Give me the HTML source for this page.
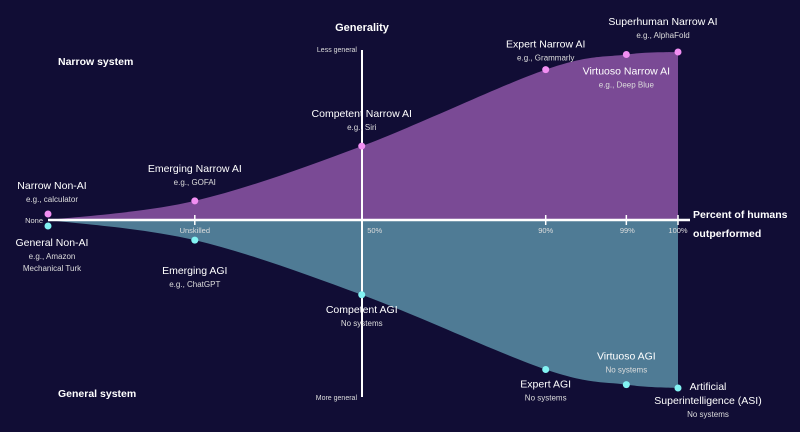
<!DOCTYPE html>
<html><head><meta charset="utf-8"><style>
html,body{margin:0;padding:0;background:#110d35;}
svg{display:block;font-family:"Liberation Sans",sans-serif;}
</style></head><body>
<svg id="chart" width="800" height="432" viewBox="0 0 800 432">
<rect width="800" height="432" fill="#110d35"/>
<g id="fills"></g>
<g id="axes"></g>
<g id="labels"></g>
<g id="dots"></g>
</svg>
<script>
const levels = ["None","Unskilled","50%","90%","99%","100%"];
const levelX = [0, 0.233, 0.498, 0.79, 0.918, 1.0];
const narrowVals = [0.036, 0.114, 0.44, 0.895, 0.985, 1.0];
const generalVals = [0.036, 0.12, 0.445, 0.89, 0.98, 1.0];
const narrowNames = ["Narrow Non-AI","Emerging Narrow AI","Competent Narrow AI","Expert Narrow AI","Virtuoso Narrow AI","Superhuman Narrow AI"];
const narrowEx = ["e.g., calculator","e.g., GOFAI","e.g., Siri","e.g., Grammarly","e.g., Deep Blue","e.g., AlphaFold"];
const generalNames = ["General Non-AI","Emerging AGI","Competent AGI","Expert AGI","Virtuoso AGI","Artificial|Superintelligence (ASI)"];
const generalEx = ["e.g., Amazon|Mechanical Turk","e.g., ChatGPT","No systems","No systems","No systems","No systems"];

const X0=48,X1=678,BASE=220,H=168;
const xs=v=>X0+v*(X1-X0);
const yUp=v=>BASE-v*H;
const yDn=v=>BASE+v*H;
const NS="http://www.w3.org/2000/svg";
function mk(tag,attrs,parent){const e=document.createElementNS(NS,tag);for(const k in attrs)e.setAttribute(k,attrs[k]);parent.appendChild(e);return e;}
function smooth(pts){
  let d=`M${pts[0][0]},${pts[0][1]}`;
  for(let i=0;i<pts.length-1;i++){
    const p0=pts[i-1]||pts[i],p1=pts[i],p2=pts[i+1],p3=pts[i+2]||p2;
    const c1=[p1[0]+(p2[0]-p0[0])/6,p1[1]+(p2[1]-p0[1])/6];
    const c2=[p2[0]-(p3[0]-p1[0])/6,p2[1]-(p3[1]-p1[1])/6];
    d+=` C${c1[0]},${c1[1]} ${c2[0]},${c2[1]} ${p2[0]},${p2[1]}`;
  }
  return d;
}
const fills=document.getElementById('fills');
const up=levelX.map((v,i)=>[xs(v),yUp(narrowVals[i])]);
up[0]=[X0,BASE];
const dn=levelX.map((v,i)=>[xs(v),yDn(generalVals[i])]);
dn[0]=[X0,BASE];
const pf=mk('path',{d:smooth(up)+` L${X1},${BASE} Z`,fill:'#7a4a95'},fills);


const gf=mk('path',{d:smooth(dn)+` L${X1},${BASE} Z`,fill:'#4f7b95'},fills);



const axes=document.getElementById('axes');
const xa=mk('line',{x1:X0,y1:BASE,x2:X1+12,y2:BASE,stroke:'#fff','stroke-width':2.5},axes);


const ya=mk('line',{x1:362,y1:50,x2:362,y2:397,stroke:'#fff','stroke-width':2},axes);


const tickDx=[-5,0,13,0,1,0];
levels.forEach((l,i)=>{
  const x=xs(levelX[i]);
  if(i>0) mk('line',{x1:x,y1:BASE-5,x2:x,y2:BASE+5,stroke:'#fff','stroke-width':1.5},axes);
  const t=mk('text',{x:x+tickDx[i],y:i==0?BASE+3:BASE+13,'font-size':7.5,fill:'#ddd','text-anchor':i==0?'end':'middle'},axes);
  t.textContent=l;
  
  
});
const lab=document.getElementById('labels');
function txt(x,y,s,size,fill,anchor,name,weight){
  const t=mk('text',{x:x,y:y,'font-size':size,fill:fill,'text-anchor':anchor||'middle','font-weight':weight||'normal'},lab);
  t.textContent=s;return t;
}
txt(362,31,"Generality",11,"#fff","middle","y-axis-title","bold");
txt(357,52,"Less general",7,"#ddd","end","y-top-label");
txt(357,400,"More general",7,"#ddd","end","y-bottom-label");
txt(58,65,"Narrow system",10.5,"#fff","start","narrow-system-label","bold");
txt(58,397,"General system",10.5,"#fff","start","general-system-label","bold");
txt(693,218,"Percent of humans",10.5,"#fff","start","x-axis-title","bold");
txt(693,237,"outperformed",10.5,"#fff","start","x-axis-title-2","bold");

const nOff=[[0,-25],[0,-29],[0,-29],[0,-22],[0,20],[0,-27]];
const gOff=[[0,20],[0,34],[0,18],[0,18],[0,-25],[0,2]];
const dots=document.getElementById('dots');
levelX.forEach((v,i)=>{
  const x=xs(v),yu=yUp(narrowVals[i]),yd=yDn(generalVals[i]);
  const uy=i==0?BASE-6:yu;
  const c=mk('circle',{cx:x,cy:uy,r:3.5,fill:'#f18ef2'},dots);
  
  
  const dy=i==0?BASE+6:yd;
  const c2=mk('circle',{cx:x,cy:dy,r:3.5,fill:'#82f3f3'},dots);
  
  
  let lx=x+nOff[i][0], ly=uy+nOff[i][1];
  if(i==0)lx=x+4;
  if(i==5)lx=x-15;
  txt(lx,ly,narrowNames[i],10.5,"#fff","middle","narrow-level-name");
  txt(lx,ly+13,narrowEx[i],8,"#ddd","middle","narrow-level-example");
  let gx=x+gOff[i][0], gy=dy+gOff[i][1];
  if(i==0)gx=x+4;
  if(i==5)gx=x+30;
  const nm=generalNames[i].split('|');
  nm.forEach((s,k)=>txt(gx,gy+k*14,s,10.5,"#fff","middle","general-level-name"));
  const ex=generalEx[i].split('|');
  ex.forEach((s,k)=>txt(gx,gy+(nm.length-1)*14+13+k*12,s,8,"#ddd","middle","general-level-example"));
});
</script>
</body></html>
